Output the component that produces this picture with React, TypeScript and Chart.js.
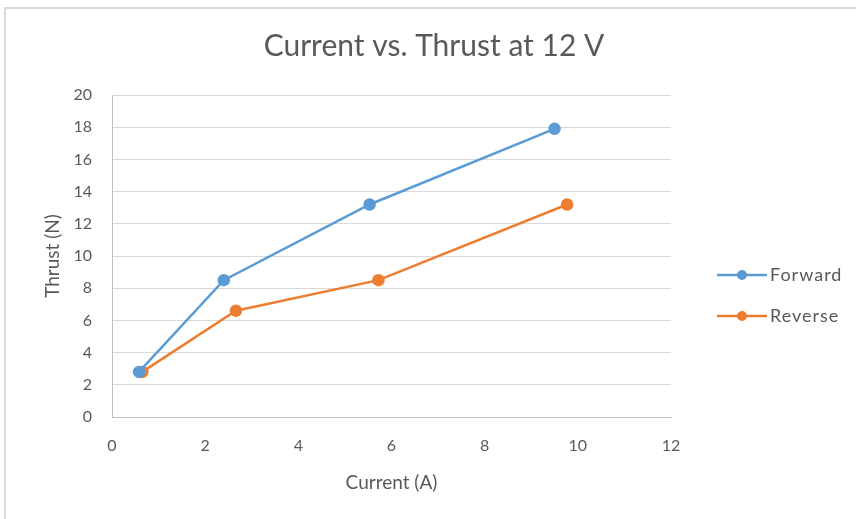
import React, { useEffect, useRef } from "react";
import { Chart, registerables } from "chart.js";

Chart.register(...registerables);

const chartTitle = "Current vs. Thrust at 12 V";
const xAxisTitle = "Current (A)";
const yAxisTitle = "Thrust (N)";
const seriesNames = ["Forward", "Reverse"];
const currentForward = [0.58, 2.4, 5.53, 9.5];
const thrustForward = [2.8, 8.5, 13.2, 17.9];
const currentReverse = [0.65, 2.66, 5.72, 9.77];
const thrustReverse = [2.8, 6.6, 8.5, 13.2];
const seriesColors = ["#5b9bd5", "#ed7d31"];

const FONT = "Lato, 'Open Sans', sans-serif";
const TEXT = "#595959";

export default function App() {
  const ref = useRef<HTMLCanvasElement | null>(null);

  useEffect(() => {
    document.body.style.margin = "0";
    const canvas = ref.current;
    if (!canvas) return;

    const overlay = {
      id: "overlay",
      afterDraw(chart: any) {
        const ctx = chart.ctx;
        ctx.save();
        ctx.fillStyle = TEXT;
        ctx.font = `30px ${FONT}`;
        ctx.textAlign = "center";
        ctx.textBaseline = "middle";
        ctx.fillText(chartTitle, 434, 46);

        const rows = [275, 316];
        chart.data.datasets.forEach((ds: any, i: number) => {
          const y = rows[i];
          ctx.strokeStyle = ds.borderColor;
          ctx.lineWidth = 2.5;
          ctx.beginPath();
          ctx.moveTo(717, y);
          ctx.lineTo(767, y);
          ctx.stroke();
          ctx.fillStyle = ds.borderColor;
          ctx.beginPath();
          ctx.arc(742, y, 5, 0, Math.PI * 2);
          ctx.fill();
          ctx.fillStyle = TEXT;
          ctx.font = `18px ${FONT}`;
          (ctx as any).letterSpacing = "1px";
          ctx.textAlign = "left";
          ctx.fillText(ds.label, 770, y);
          (ctx as any).letterSpacing = "0px";
        });
        ctx.restore();
      },
    };

    const mk = (xs: number[], ys: number[]) => xs.map((x, i) => ({ x, y: ys[i] }));

    const chart = new Chart(canvas, {
      type: "scatter",
      data: {
        datasets: [
          {
            label: seriesNames[0],
            data: mk(currentForward, thrustForward),
            borderColor: seriesColors[0],
            backgroundColor: seriesColors[0],
            showLine: true,
            borderWidth: 2.5,
            pointRadius: 5,
            pointHoverRadius: 5,
          },
          {
            label: seriesNames[1],
            data: mk(currentReverse, thrustReverse),
            borderColor: seriesColors[1],
            backgroundColor: seriesColors[1],
            showLine: true,
            borderWidth: 2.5,
            pointRadius: 5,
            pointHoverRadius: 5,
          },
        ],
      },
      options: {
        animation: false,
        responsive: false,
        layout: { padding: { left: 41, top: 95, right: 185, bottom: 25 } },
        plugins: { legend: { display: false }, title: { display: false }, tooltip: { enabled: false } },
        scales: {
          x: {
            type: "linear",
            min: 0,
            max: 12,
            ticks: { stepSize: 2, padding: 19, color: TEXT, font: { family: FONT, size: 16 } },
            grid: { display: false, drawTicks: false },
            border: { display: true, color: "#bfbfbf", width: 1 },
            title: { display: true, text: xAxisTitle, color: TEXT, padding: 0, font: { family: FONT, size: 19 } },
            afterFit(scale: any) {
              scale.height = 77;
            },
          },
          y: {
            type: "linear",
            min: 0,
            max: 20,
            ticks: { stepSize: 2, padding: 20, color: TEXT, font: { family: FONT, size: 16 } },
            grid: { color: "#d9d9d9", lineWidth: 1, drawTicks: false },
            border: { display: true, color: "#bfbfbf", width: 1 },
            title: { display: true, text: yAxisTitle, color: TEXT, padding: 0, font: { family: FONT, size: 19 } },
            afterFit(scale: any) {
              scale.width = 71;
            },
          },
        },
      },
      plugins: [overlay],
    });
    return () => chart.destroy();
  }, []);

  return (
    <div style={{ position: "relative", width: 856, height: 519, overflow: "hidden", background: "#fff" }}>
      <div
        style={{
          position: "absolute",
          left: 4,
          top: 7,
          width: 870,
          height: 530,
          border: "2px solid #d9d9d9",
          boxSizing: "border-box",
        }}
      />
      <canvas ref={ref} width={856} height={519} style={{ position: "absolute", left: 0, top: 0 }} />
    </div>
  );
}
